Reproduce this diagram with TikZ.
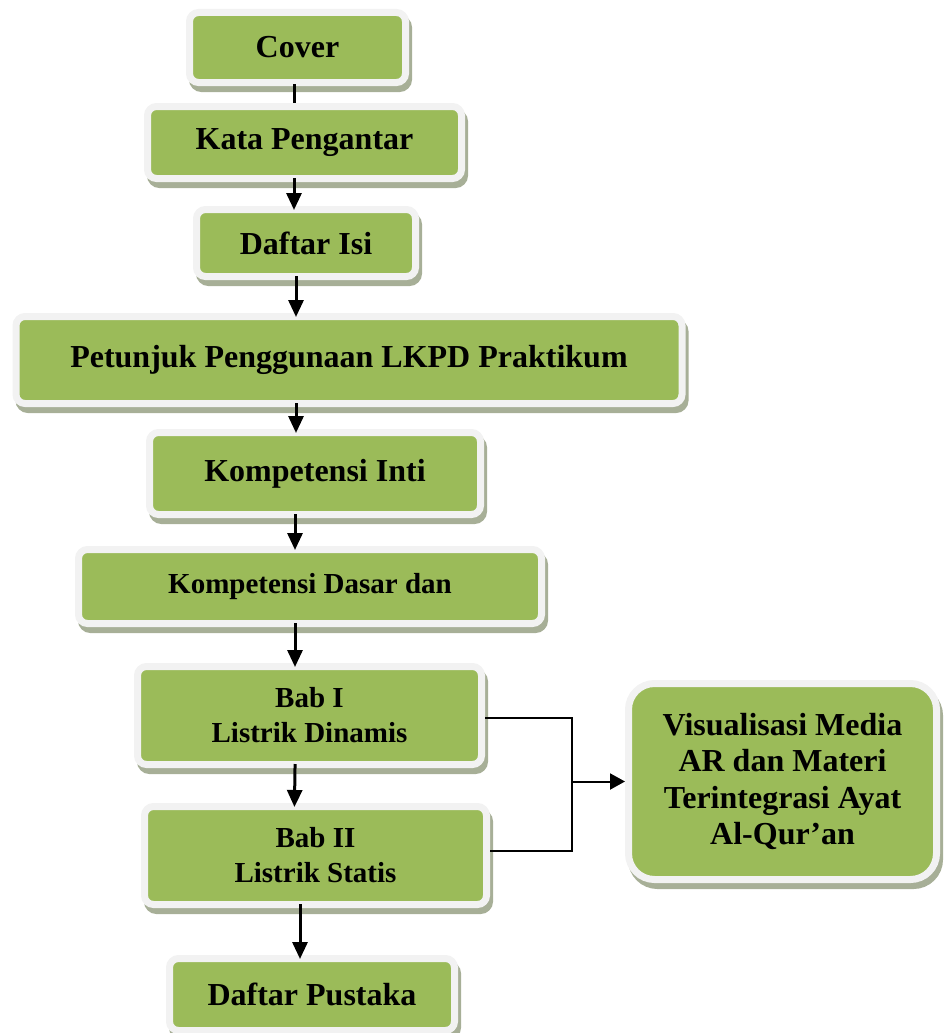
\documentclass[tikz,border=0pt]{standalone}
\usepackage{fontspec}
\setmainfont{Liberation Serif}
\usetikzlibrary{arrows.meta}
\definecolor{boxgreen}{HTML}{9BBB59}
\definecolor{boxrim}{HTML}{F2F2F2}
\definecolor{boxshadow}{HTML}{A7AF97}
\begin{document}
\begin{tikzpicture}[x=1pt,y=-1pt,
  box/.style={draw=boxrim, fill=boxgreen, line width=7pt, rounded corners=9pt,
    font=\bfseries\fontsize{32}{37}\selectfont, align=center, inner sep=0pt,
    preaction={draw=boxshadow, fill=boxshadow, transform canvas={xshift=3pt,yshift=-6pt}}},
  smallbox/.style={box, font=\bfseries\fontsize{29}{35}\selectfont},
  bigbox/.style={box, rounded corners=26pt, font=\bfseries\fontsize{32}{36.5}\selectfont},
  arr/.style={line width=3pt, -{Triangle[width=15pt,length=17pt]}, shorten <=-4pt, shorten >=-4pt},
  plainline/.style={line width=3pt, shorten <=-2pt},
  link/.style={line width=2pt},
  linkarr/.style={line width=2pt, -{Triangle[width=16pt,length=15pt]}}]
\useasboundingbox (0,0) rectangle (945,1033);
\node[box, minimum width=216pt, minimum height=70pt] (cover) at (297.5,47.5) {Cover};
\node[box, minimum width=314pt, minimum height=72pt] (kata) at (304.5,142.5) {Kata Pengantar};
\node[box, minimum width=219pt, minimum height=67pt] (isi) at (306,243) {Daftar Isi};
\node[box, minimum width=666pt, minimum height=87pt] (petunjuk) at (349,360) {Petunjuk Penggunaan LKPD Praktikum};
\node[box, minimum width=331pt, minimum height=82pt] (ki) at (315,473.5) {Kompetensi Inti};
\node[smallbox, minimum width=463pt, minimum height=74pt] (kd) at (310,586.5) {Kompetensi Dasar dan};
\node[smallbox, minimum width=344pt, minimum height=98pt] (bab1) at (309.5,715.5) {Bab I\\Listrik Dinamis};
\node[smallbox, minimum width=342pt, minimum height=98pt] (bab2) at (315.5,855.5) {Bab II\\Listrik Statis};
\node[box, minimum width=285pt, minimum height=72pt] (pustaka) at (312,994.5) {Daftar Pustaka};
\node[bigbox, minimum width=308pt, minimum height=196pt] (vis) at (782.5,781.5) {Visualisasi Media\\AR dan Materi\\Terintegrasi Ayat\\Al-Qur’an};

\draw[plainline] ([xshift=-3.5pt]cover.south) -- ([xshift=-10.5pt]kata.north);
\draw[arr] ([xshift=-10.5pt]kata.south) -- ([xshift=-12pt]isi.north);
\draw[arr] ([xshift=-10pt]isi.south) -- ([xshift=-53pt]petunjuk.north);
\draw[arr] ([xshift=-53pt]petunjuk.south) -- ([xshift=-19pt]ki.north);
\draw[arr] ([xshift=-20pt]ki.south) -- ([xshift=-15pt]kd.north);
\draw[arr] ([xshift=-15pt]kd.south) -- ([xshift=-14.5pt]bab1.north);
\draw[arr] ([xshift=-14.5pt]bab1.south) -- ([xshift=-21pt]bab2.north);
\draw[arr] ([xshift=-15.5pt]bab2.south) -- ([xshift=-12pt]pustaka.north);

\coordinate (j) at (572,781.5);
\draw[link] ([yshift=-2.5pt]bab1.east) -| (j) |- ([yshift=4.5pt]bab2.east);
\draw[linkarr] (j) -- (vis.west);
\end{tikzpicture}
\end{document}
